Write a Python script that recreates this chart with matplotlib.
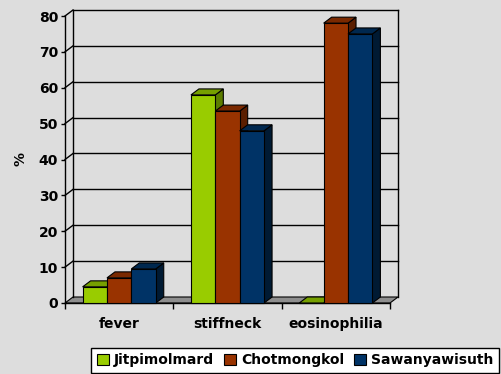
import matplotlib
matplotlib.use("Agg")
import matplotlib.pyplot as plt
from matplotlib.patches import Polygon, Patch

categories = ["fever", "stiffneck", "eosinophilia"]
series = ["Jitpimolmard", "Chotmongkol", "Sawanyawisuth"]
jitpimolmard = [4.5, 58, 0]
chotmongkol = [7, 53.5, 78]
sawanyawisuth = [9.5, 48, 75]
yticks = [0, 10, 20, 30, 40, 50, 60, 70, 80]

# front / top / side colours of each series (excel 3d look)
colors = {
    "Jitpimolmard": ("#99cc00", "#76a000", "#5c7d00"),
    "Chotmongkol": ("#993300", "#7a2900", "#5a1e00"),
    "Sawanyawisuth": ("#003366", "#00284f", "#001a33"),
}

BG = "#dddddd"
plt.rcParams["font.family"] = ["DejaVu Sans"]
plt.rcParams["font.weight"] = "bold"
plt.rcParams["axes.labelweight"] = "bold"
plt.rcParams["font.size"] = 10

fig = plt.figure(figsize=(5.01, 3.74), dpi=100, facecolor=BG)
ax = fig.add_axes([65 / 501, 71 / 374, 325 / 501, 287 / 374])
ax.set_xlim(0, len(categories))
ax.set_ylim(0, 80)
ax.set_facecolor("none")

# depth of the 3d effect: about 8 px to the right, 6 px up
dx = 8 / (ax.bbox.width / len(categories))
dy = 6 / (ax.bbox.height / 80)
n = len(categories)
line_kw = dict(color="black", lw=1, clip_on=False, zorder=1)

# floor
ax.add_patch(Polygon([(0, 0), (n, 0), (n + dx, dy), (dx, dy)],
                     facecolor="#8e8e8e", edgecolor="black", lw=0.8,
                     clip_on=False, zorder=1))

# back wall and side wall grid
for v in yticks[1:]:
    ax.plot([dx, n + dx], [v + dy, v + dy], **line_kw)
    ax.plot([0, dx], [v, v + dy], **line_kw)
ax.plot([dx, dx], [dy, 80 + dy], **line_kw)
ax.plot([n + dx, n + dx], [dy, 80 + dy], **line_kw)

# bars
data = {"Jitpimolmard": jitpimolmard, "Chotmongkol": chotmongkol,
        "Sawanyawisuth": sawanyawisuth}
bw = 0.225
start = (1 - len(series) * bw) / 2
z = 3
for i in range(n):
    for j, name in enumerate(series):
        v = data[name][i]
        front_c, top_c, side_c = colors[name]
        x0 = i + start + j * bw
        x1 = x0 + bw
        kw = dict(edgecolor="black", lw=0.8, clip_on=False, zorder=z)
        ax.add_patch(Polygon([(x1, 0), (x1 + dx, dy), (x1 + dx, v + dy), (x1, v)],
                             facecolor=side_c, **kw))
        ax.add_patch(Polygon([(x0, v), (x1, v), (x1 + dx, v + dy), (x0 + dx, v + dy)],
                             facecolor=top_c, **kw))
        ax.add_patch(Polygon([(x0, 0), (x1, 0), (x1, v), (x0, v)],
                             facecolor=front_c, **kw))
        z += 1

for s in ["top", "right"]:
    ax.spines[s].set_visible(False)
ax.spines["left"].set_linewidth(1)
ax.spines["bottom"].set_linewidth(1)
ax.spines["bottom"].set_zorder(2)

ax.set_yticks(yticks)
ax.tick_params(axis="y", direction="out", length=3, width=1, pad=2)
ax.set_xticks(range(n + 1))
ax.set_xticklabels([])
ax.tick_params(axis="x", which="major", direction="out", length=4, width=1)
ax.set_xticks([i + 0.5 for i in range(n)], minor=True)
ax.set_xticklabels(categories, minor=True)
ax.tick_params(axis="x", which="minor", length=0, pad=10)
ax.set_ylabel("%", labelpad=8, fontweight="bold")

handles = [Patch(facecolor=colors[s][0], edgecolor="black", lw=0.8) for s in series]
fig.legend(handles, series, loc="lower right", bbox_to_anchor=(499 / 501, 1 / 374),
           ncol=3, frameon=True, fancybox=False, edgecolor="black", framealpha=1,
           handlelength=0.85, handleheight=0.85, handletextpad=0.35,
           columnspacing=0.75, borderpad=0.4, borderaxespad=0)

fig.savefig("out.png", dpi=100, facecolor=BG)
